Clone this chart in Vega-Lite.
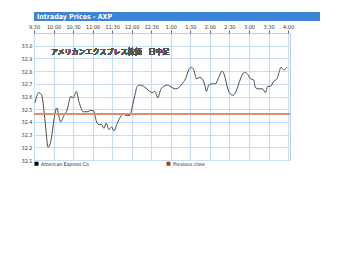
{
  "$schema": "https://vega.github.io/schema/vega-lite/v6.json",
  "padding": {"left": 15, "top": 12, "right": 0, "bottom": 0},
  "background": "white",
  "spacing": 0,
  "config": {
    "font": "DejaVu Sans",
    "concat": {"spacing": 0}
  },
  "vconcat": [
    {
      "width": 286,
      "height": 9,
      "view": {"fill": "#3d83d6", "stroke": null},
      "data": {"values": [{"title": "Intraday Prices - AXP"}]},
      "mark": {"type": "text", "align": "left", "baseline": "middle", "color": "white", "fontWeight": "bold", "fontSize": 7, "font": "DejaVu Sans Condensed", "dx": 3},
      "encoding": {
        "text": {"field": "title"},
        "x": {"datum": 0, "scale": {"domain": [0, 1]}, "axis": null}
      }
    },
    {
      "width": 256,
      "height": 127,
      "view": {"fill": "white", "stroke": "#b9d1ee"},
      "data": {"values": [
        {"t": 1.5, "price": 32.55}, {"t": 7.2, "price": 32.63}, {"t": 11.8, "price": 32.61}, {"t": 15.3, "price": 32.49},
        {"t": 17.9, "price": 32.36}, {"t": 21.5, "price": 32.2}, {"t": 26.7, "price": 32.27}, {"t": 30.7, "price": 32.42},
        {"t": 34.8, "price": 32.51}, {"t": 40.9, "price": 32.4}, {"t": 46, "price": 32.45}, {"t": 51.2, "price": 32.5},
        {"t": 56.3, "price": 32.6}, {"t": 60.4, "price": 32.59}, {"t": 65, "price": 32.64}, {"t": 69, "price": 32.56},
        {"t": 75.7, "price": 32.48}, {"t": 81.9, "price": 32.48}, {"t": 86.9, "price": 32.49}, {"t": 91.1, "price": 32.49},
        {"t": 96.1, "price": 32.4}, {"t": 99.6, "price": 32.38}, {"t": 103.8, "price": 32.38}, {"t": 107.3, "price": 32.35},
        {"t": 111, "price": 32.39}, {"t": 115, "price": 32.34}, {"t": 119.1, "price": 32.36}, {"t": 122.6, "price": 32.33},
        {"t": 127.9, "price": 32.39}, {"t": 132.9, "price": 32.44}, {"t": 136.4, "price": 32.46}, {"t": 143.2, "price": 32.45},
        {"t": 147.2, "price": 32.45}, {"t": 150.9, "price": 32.52}, {"t": 154.8, "price": 32.61}, {"t": 158.5, "price": 32.68},
        {"t": 162, "price": 32.69}, {"t": 168.6, "price": 32.68}, {"t": 175.4, "price": 32.65}, {"t": 181.5, "price": 32.63},
        {"t": 185.5, "price": 32.64}, {"t": 190.1, "price": 32.59}, {"t": 194.2, "price": 32.65}, {"t": 199.3, "price": 32.68},
        {"t": 204.5, "price": 32.69}, {"t": 212.2, "price": 32.67}, {"t": 217.2, "price": 32.66}, {"t": 222.3, "price": 32.67},
        {"t": 227.5, "price": 32.7}, {"t": 232.6, "price": 32.74}, {"t": 237.6, "price": 32.81}, {"t": 241.3, "price": 32.83},
        {"t": 245.3, "price": 32.81}, {"t": 249.4, "price": 32.74}, {"t": 254.5, "price": 32.75}, {"t": 258.2, "price": 32.74},
        {"t": 262.2, "price": 32.69}, {"t": 264.8, "price": 32.64}, {"t": 268.3, "price": 32.69}, {"t": 273.5, "price": 32.7},
        {"t": 278.6, "price": 32.7}, {"t": 282.7, "price": 32.74}, {"t": 288.8, "price": 32.8}, {"t": 292.8, "price": 32.76},
        {"t": 296.5, "price": 32.68}, {"t": 300, "price": 32.63}, {"t": 305.1, "price": 32.61}, {"t": 309.2, "price": 32.63},
        {"t": 314.3, "price": 32.7}, {"t": 319.5, "price": 32.77}, {"t": 323.5, "price": 32.79}, {"t": 328.7, "price": 32.77},
        {"t": 332.2, "price": 32.74}, {"t": 337.3, "price": 32.73}, {"t": 339.9, "price": 32.67}, {"t": 344.9, "price": 32.66},
        {"t": 351.1, "price": 32.66}, {"t": 355.2, "price": 32.63}, {"t": 358.7, "price": 32.68}, {"t": 362.9, "price": 32.68},
        {"t": 368, "price": 32.72}, {"t": 373.1, "price": 32.74}, {"t": 375.6, "price": 32.78}, {"t": 379.3, "price": 32.83},
        {"t": 383.3, "price": 32.81}, {"t": 388.5, "price": 32.83}
      ]},
      "layer": [
        {
          "mark": {"type": "line", "strokeWidth": 1, "interpolate": "monotone"},
          "encoding": {
            "x": {
              "field": "t", "type": "quantitative",
              "scale": {"domain": [0, 393], "nice": false, "zero": false},
              "axis": {
                "orient": "top", "title": null,
                "values": [0, 30, 60, 90, 120, 150, 180, 210, 240, 270, 300, 330, 360, 390],
                "tickCount": 30,
                "labelExpr": "(floor((datum.value+570)/60) > 12 ? floor((datum.value+570)/60) - 12 : floor((datum.value+570)/60)) + ':' + (((datum.value+570)%60) < 10 ? '0' : '') + ((datum.value+570)%60)",
                "labelFontSize": 5.5, "labelColor": "#333", "labelFont": "DejaVu Sans Condensed",
                "labelPadding": 1, "tickSize": 3, "tickColor": "#666",
                "domain": false, "grid": true, "gridColor": "#c9dcf3", "gridWidth": 1.2,
                "minExtent": 11, "maxExtent": 11, "labelFlush": false, "labelOverlap": false
              }
            },
            "y": {
              "field": "price", "type": "quantitative",
              "scale": {"domain": [32.1, 33.1], "nice": false, "zero": false},
              "axis": {
                "title": null,
                "values": [32.1, 32.2, 32.3, 32.4, 32.5, 32.6, 32.7, 32.8, 32.9, 33.0],
                "tickCount": 30,
                "format": ".1f",
                "labelFontSize": 5.5, "labelColor": "#333", "labelFont": "DejaVu Sans Condensed",
                "labelPadding": 2, "ticks": false, "domain": false, "labelOverlap": false,
                "grid": true, "gridColor": "#c9dcf3", "gridWidth": 1.2,
                "minExtent": 18, "maxExtent": 18
              }
            },
            "color": {
              "datum": "American Express Co", "type": "nominal",
              "scale": {"domain": ["American Express Co", "Previous close"], "range": ["#4a4a4a", "#d8906e"]},
              "legend": {
                "title": null, "orient": "bottom", "direction": "horizontal", "columns": 2,
                "offset": -3, "padding": 0, "columnPadding": 77,
                "symbolType": "square", "symbolSize": 16, "symbolStrokeWidth": 0,
                "labelFontSize": 5, "labelFont": "DejaVu Sans Condensed", "labelColor": "#222", "labelOffset": 2,
                "encode": {"symbols": {"update": {"fill": {"signal": "datum.value === 'Previous close' ? '#a63c14' : '#000000'"}, "stroke": {"value": "transparent"}, "opacity": {"value": 1}}}}
              }
            }
          }
        },
        {
          "mark": {"type": "rule", "strokeWidth": 1.6},
          "encoding": {
            "y": {"datum": 32.46},
            "color": {"datum": "Previous close", "type": "nominal"}
          }
        },
        {
          "mark": {"type": "text", "align": "left", "baseline": "middle", "fontSize": 7, "font": "Noto Sans CJK JP", "color": "#555555"},
          "encoding": {
            "x": {"datum": 26},
            "y": {"datum": 32.95},
            "text": {"value": "アメリカンエクスプレス株価　日中足"}
          }
        }
      ]
    }
  ]
}
